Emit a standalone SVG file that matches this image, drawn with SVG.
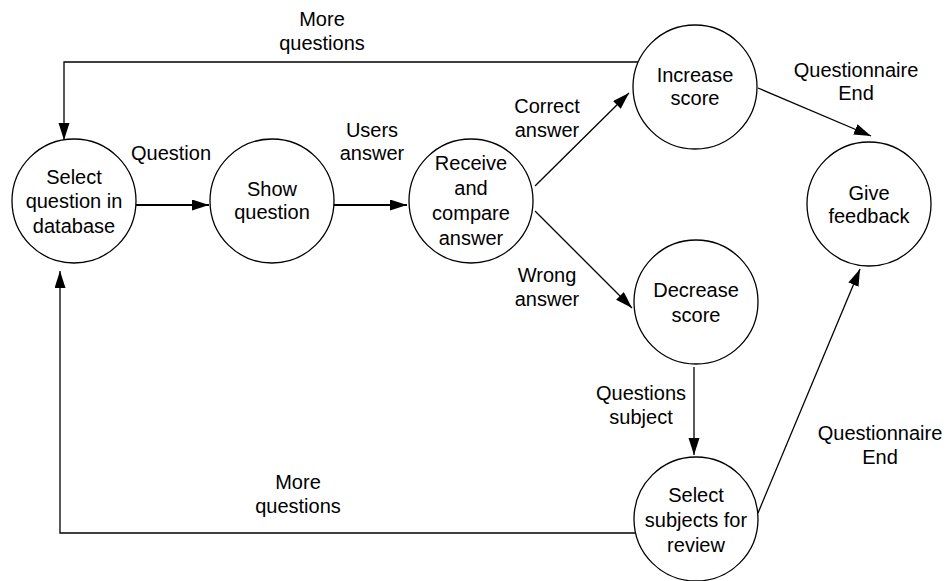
<svg xmlns="http://www.w3.org/2000/svg" width="947" height="581" viewBox="0 0 947 581">
<style>
.node circle{fill:#fff;stroke:#000;stroke-width:1.3}
text{font-family:"Liberation Sans",Arial,sans-serif;font-size:20px;fill:#000;text-anchor:middle}
.c{fill:none;stroke:#000;stroke-width:1.3}
.b{stroke-width:2.2}
</style>
<defs>
<marker id="ah" markerUnits="userSpaceOnUse" markerWidth="18" markerHeight="12" refX="17" refY="5.5" orient="auto">
<path d="M0,0 L17,5.5 L0,11 z" fill="#000"/>
</marker>
</defs>
<rect width="947" height="581" fill="#fff"/>
<g id="connectors">
<path class="c" d="M638,62 H64 V140" marker-end="url(#ah)"/>
<path class="c" d="M635,533 H60 V271" marker-end="url(#ah)"/>
<path class="c b" d="M136,205 H209" marker-end="url(#ah)"/>
<path class="c b" d="M334,205 H407" marker-end="url(#ah)"/>
<path class="c" d="M535,186 L629,93" marker-end="url(#ah)"/>
<path class="c" d="M535,211 L632,308" marker-end="url(#ah)"/>
<path class="c" d="M758,88 L871,136" marker-end="url(#ah)"/>
<path class="c" d="M694,367 V455" marker-end="url(#ah)"/>
<path class="c" d="M758,513 L860,269" marker-end="url(#ah)"/>
<text x="322" y="26">More</text><text x="322" y="50">questions</text>
<text x="171" y="160">Question</text>
<text x="372" y="137">Users</text><text x="372" y="160">answer</text>
<text x="547" y="113">Correct</text><text x="547" y="137">answer</text>
<text x="547" y="282">Wrong</text><text x="547" y="306">answer</text>
<text x="856" y="77">Questionnaire</text><text x="856" y="100">End</text>
<text x="641" y="400">Questions</text><text x="641" y="424">subject</text>
<text x="880" y="440">Questionnaire</text><text x="880" y="464">End</text>
<text x="298" y="489">More</text><text x="298" y="513">questions</text>
</g>
<g id="n1" class="node"><circle cx="74" cy="201" r="62"/><text x="74" y="184">Select</text><text x="74" y="208">question in</text><text x="74" y="233">database</text></g>
<g id="n2" class="node"><circle cx="272" cy="201" r="62"/><text x="272" y="196">Show</text><text x="272" y="219">question</text></g>
<g id="n3" class="node"><circle cx="471" cy="201" r="62"/><text x="471" y="170">Receive</text><text x="471" y="195">and</text><text x="471" y="220">compare</text><text x="471" y="245">answer</text></g>
<g id="n4" class="node"><circle cx="695" cy="87" r="62"/><text x="695" y="82">Increase</text><text x="695" y="105">score</text></g>
<g id="n5" class="node"><circle cx="696" cy="302" r="62"/><text x="696" y="297">Decrease</text><text x="696" y="322">score</text></g>
<g id="n6" class="node"><circle cx="869" cy="204" r="62"/><text x="869" y="200">Give</text><text x="869" y="223">feedback</text></g>
<g id="n7" class="node"><circle cx="696" cy="519" r="62"/><text x="696" y="502">Select</text><text x="696" y="527">subjects for</text><text x="696" y="552">review</text></g>
</svg>
